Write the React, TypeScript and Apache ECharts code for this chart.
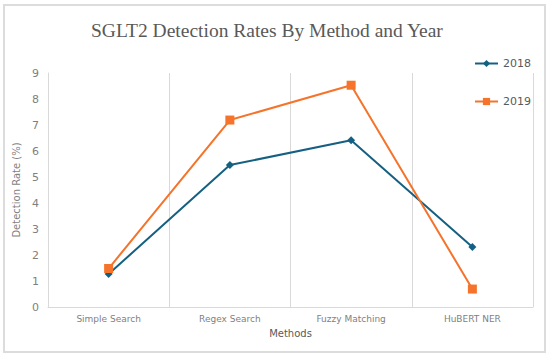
import React, { useEffect, useRef } from "react";
import * as echarts from "echarts";

const categories = ["Simple Search", "Regex Search", "Fuzzy Matching", "HuBERT NER"];
const values2018 = [1.27, 5.46, 6.41, 2.31];
const values2019 = [1.48, 7.19, 8.53, 0.69];
const yTicks = { min: 0, max: 9, interval: 1 };

export default function App() {
  const ref = useRef<HTMLDivElement>(null);
  useEffect(() => {
    if (!ref.current) return;
    const chart = echarts.init(ref.current, null, { renderer: "svg" });
    chart.setOption({
      animation: false,
      backgroundColor: "#ffffff",
      title: {
        text: "SGLT2 Detection Rates By Method and Year",
        left: 86,
        top: 15,
        textStyle: {
          fontFamily: "Liberation Serif",
          fontSize: 19.5,
          fontWeight: "normal",
          color: "#595959",
        },
      },
      graphic: [
        {
          type: "rect",
          shape: { x: 4, y: 5, width: 541, height: 347 },
          style: { fill: "none", stroke: "#dcdcdc", lineWidth: 2 },
          silent: true,
        },
      ],
      legend: {
        orient: "vertical",
        left: 469,
        top: 53,
        itemGap: 27,
        itemWidth: 23,
        itemHeight: 9,
        textStyle: { fontFamily: "DejaVu Sans", fontSize: 11, color: "#595959" },
        data: ["2018", "2019"],
      },
      grid: { left: 48, right: 17, top: 73, bottom: 52, containLabel: false },
      xAxis: {
        type: "category",
        data: categories,
        boundaryGap: true,
        name: "Methods",
        nameLocation: "middle",
        nameGap: 21,
        nameTextStyle: { fontFamily: "DejaVu Sans", fontSize: 10, color: "#595959" },
        axisLine: { lineStyle: { color: "#d9d9d9", width: 1 } },
        axisTick: { show: false },
        axisLabel: { fontFamily: "DejaVu Sans", fontSize: 9, color: "#7f7f7f", margin: 7 },
        splitLine: { show: true, lineStyle: { color: "#d9d9d9", width: 1 } },
      },
      yAxis: {
        type: "value",
        min: yTicks.min,
        max: yTicks.max,
        interval: yTicks.interval,
        name: "Detection Rate (%)",
        nameLocation: "middle",
        nameGap: 16,
        nameTextStyle: { fontFamily: "DejaVu Sans", fontSize: 10, color: "#7f7f7f" },
        axisLine: { show: true, lineStyle: { color: "#d9d9d9", width: 1 } },
        axisTick: { show: false },
        axisLabel: { fontFamily: "DejaVu Sans", fontSize: 11, color: "#7f7f7f", margin: 9 },
        splitLine: { show: false },
      },
      series: [
        {
          name: "2018",
          type: "line",
          data: values2018,
          symbol: "diamond",
          symbolSize: 8,
          lineStyle: { color: "#156082", width: 2 },
          itemStyle: { color: "#156082" },
        },
        {
          name: "2019",
          type: "line",
          data: values2019,
          symbol: "rect",
          symbolSize: 9,
          lineStyle: { color: "#F5732A", width: 2 },
          itemStyle: { color: "#F5732A" },
        },
      ],
    });
    return () => chart.dispose();
  }, []);
  return (
    <div
      ref={ref}
      style={{ position: "fixed", left: 0, top: 0, width: 550, height: 359 }}
    />
  );
}
